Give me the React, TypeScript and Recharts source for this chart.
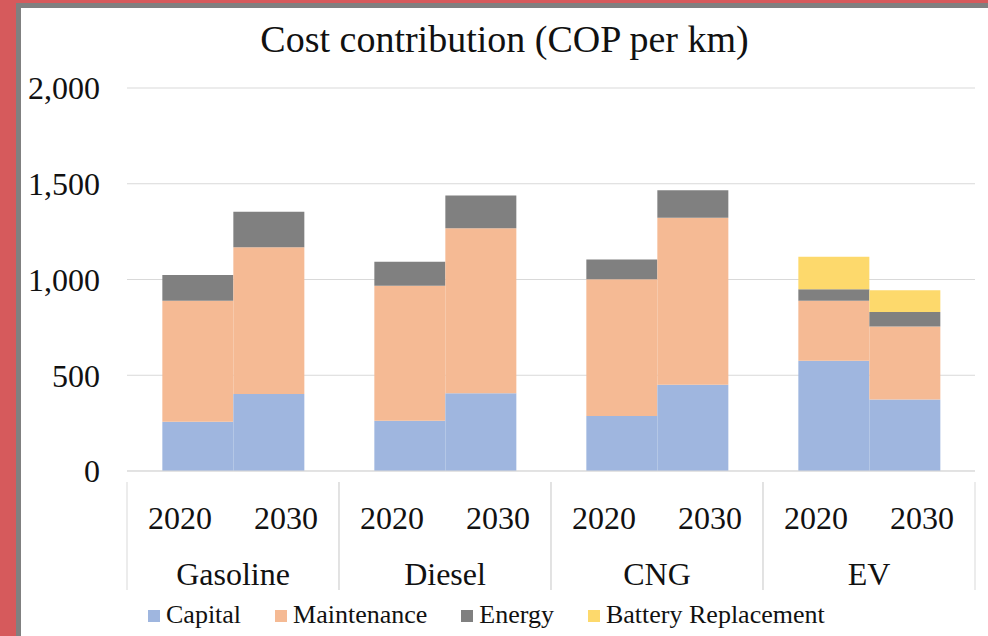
import { BarChart, Bar, XAxis, YAxis, CartesianGrid } from 'recharts';

const fuels = ['Gasoline', 'Diesel', 'CNG', 'EV'];
const years = ['2020', '2030'];
const capital2020 = [257, 263, 287, 576];
const capital2030 = [402, 406, 451, 374];
const maintenance2020 = [632, 705, 714, 313];
const maintenance2030 = [766, 861, 872, 380];
const energy2020 = [134, 125, 104, 60];
const energy2030 = [186, 171, 143, 76];
const battery2020 = [0, 0, 0, 170];
const battery2030 = [0, 0, 0, 114];
const yTicks = [0, 500, 1000, 1500, 2000];

const series = [
  { key: 'capital', label: 'Capital', color: '#9FB6DF' },
  { key: 'maintenance', label: 'Maintenance', color: '#F5BA94' },
  { key: 'energy', label: 'Energy', color: '#808080' },
  { key: 'battery', label: 'Battery Replacement', color: '#FDD96C' },
];

const data = fuels.map((fuel, i) => ({
  fuel,
  capital2020: capital2020[i],
  maintenance2020: maintenance2020[i],
  energy2020: energy2020[i],
  battery2020: battery2020[i],
  capital2030: capital2030[i],
  maintenance2030: maintenance2030[i],
  energy2030: energy2030[i],
  battery2030: battery2030[i],
}));

const FONT = '"Liberation Serif", "DejaVu Serif", serif';
const GRID = '#d9d9d9';
const BAND = 212; // width of one fuel group in px

function FuelTick(props: any) {
  const { x, y, payload } = props;
  const half = BAND / 2;
  const quarter = BAND / 4;
  return (
    <g style={{ fontFamily: FONT }}>
      <line x1={x - half} x2={x - half} y1={y + 11} y2={y + 119} stroke={GRID} />
      <line x1={x + half} x2={x + half} y1={y + 11} y2={y + 119} stroke={GRID} />
      <text x={x - quarter} y={y + 58} textAnchor="middle" fontSize={32} style={{ fontFamily: FONT }} fill="#111">
        {years[0]}
      </text>
      <text x={x + quarter} y={y + 58} textAnchor="middle" fontSize={32} style={{ fontFamily: FONT }} fill="#111">
        {years[1]}
      </text>
      <text x={x} y={y + 114} textAnchor="middle" fontSize={32} style={{ fontFamily: FONT }} fill="#111">
        {payload.value}
      </text>
    </g>
  );
}

export default function App() {
  return (
    <div
      style={{
        position: 'absolute',
        left: 0,
        top: 0,
        width: 988,
        height: 636,
        background: '#D65A5C',
        overflow: 'hidden',
        fontFamily: FONT,
      }}
    >
      <div
        style={{
          position: 'absolute',
          left: 16,
          top: 3,
          width: 972,
          height: 633,
          background: '#fff',
          borderLeft: '5px solid #808080',
          borderTop: '5px solid #808080',
          boxSizing: 'border-box',
        }}
      />
      <div
        style={{
          position: 'absolute',
          left: 21,
          width: 967,
          top: 17,
          textAlign: 'center',
          fontFamily: FONT,
          fontSize: 38,
          lineHeight: '44px',
          color: '#111',
        }}
      >
        Cost contribution (COP per km)
      </div>
      <div style={{ position: 'absolute', left: 0, top: 0 }}>
        <BarChart
          width={988}
          height={636}
          data={data}
          margin={{ top: 88, right: 13, bottom: 0, left: 0 }}
          barCategoryGap="16.67%"
          barGap={0}
          style={{ fontFamily: FONT }}
        >
          <CartesianGrid vertical={false} stroke={GRID} />
          <XAxis
            dataKey="fuel"
            height={165}
            axisLine={{ stroke: GRID }}
            tickLine={false}
            tickSize={0}
            tickMargin={0}
            interval={0}
            tick={<FuelTick />}
          />
          <YAxis
            width={127}
            domain={[0, 2000]}
            ticks={yTicks}
            axisLine={false}
            tickLine={false}
            tickSize={6}
            tickMargin={21}
            tickFormatter={(v: number) => v.toLocaleString('en-US')}
            tick={{ fontSize: 32, fontFamily: FONT, fill: '#111', style: { fontFamily: FONT } }}
          />
          {series.map((s) => (
            <Bar key={s.key + '2020'} dataKey={s.key + '2020'} stackId="y2020" fill={s.color} isAnimationActive={false} />
          ))}
          {series.map((s) => (
            <Bar key={s.key + '2030'} dataKey={s.key + '2030'} stackId="y2030" fill={s.color} isAnimationActive={false} />
          ))}
        </BarChart>
      </div>
      <div
        style={{
          position: 'absolute',
          left: 148,
          top: 602,
          height: 26,
          display: 'flex',
          fontFamily: FONT,
          fontSize: 26,
          lineHeight: '26px',
          color: '#111',
        }}
      >
        {series.map((s) => (
          <div key={s.key} style={{ display: 'flex', alignItems: 'center', marginRight: 34 }}>
            <span style={{ display: 'inline-block', width: 12, height: 12, background: s.color, marginRight: 6, marginTop: 2 }} />
            <span>{s.label}</span>
          </div>
        ))}
      </div>
    </div>
  );
}
